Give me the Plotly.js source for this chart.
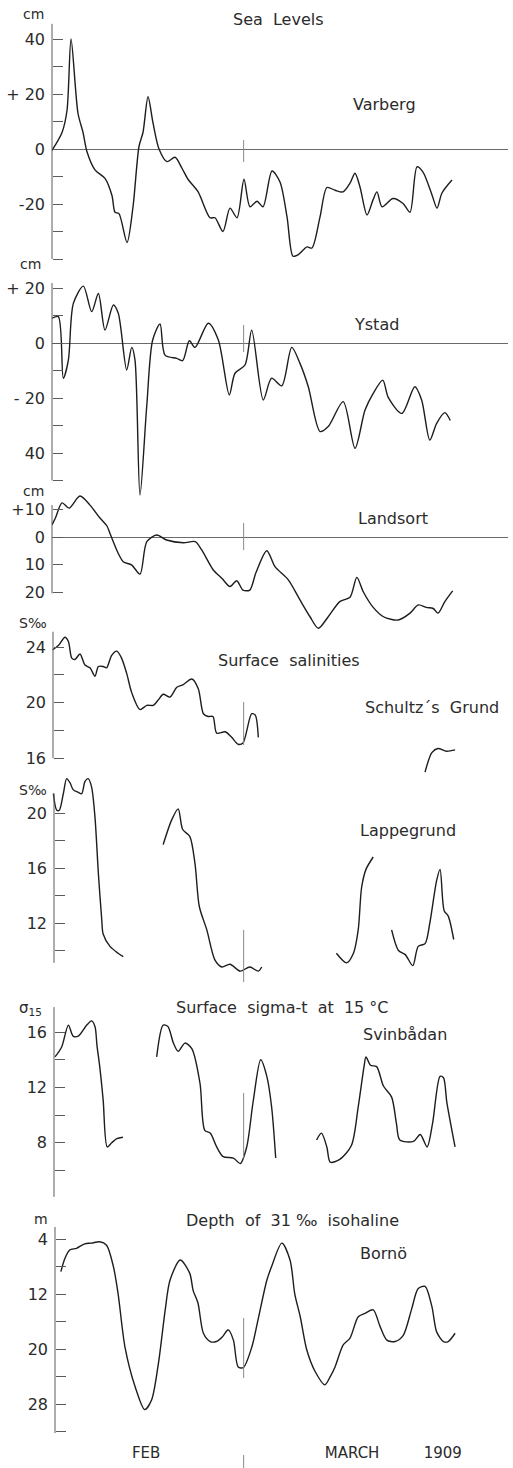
<!DOCTYPE html>
<html><head><meta charset="utf-8">
<script src="https://cdn.plot.ly/plotly-3.0.1.min.js"></script>
<style>html,body{margin:0;padding:0;background:#fff}</style>
</head><body><div id="chart" style="width:513px;height:1468px"></div>
<script>
// ---------- DATA (days after 1 Feb 1909) ----------
const varbergDay = [0,1.47,2.2,2.79,3.81,4.55,5.13,6.3,7.77,8.8,9.24,9.82,11.0,11.88,12.76,13.34,14.08,14.81,15.69,16.86,18.04,19.06,19.94,21.41,23.17,23.9,25.07,26.1,27.13,28.15,29.03,30.06,30.94,32.26,33.43,34.46,35.34,36.07,37.39,38.12,39.3,40.32,41.5,42.67,43.7,44.43,45.16,46.19,47.07,47.65,48.39,50.0,51.47,52.49,53.52,54.4,55.72,56.45,57.18,58.65];
const varbergCm = [-0.5,6,14,40,13,6,-1,-7.6,-10.7,-17,-23,-23.5,-34,-21,1,6,19,9.5,0,-4.6,-3,-7,-11,-15.5,-25,-25,-30,-21.5,-25,-11,-21,-19,-21,-8,-12,-24.7,-39,-38.5,-35.6,-36,-24.7,-14,-15,-15.6,-12.4,-8.8,-13.8,-24,-18.5,-15.6,-21,-18,-19.8,-23,-6.5,-8.4,-16.7,-21.5,-16,-11.3];

const ystadDay = [0,0.93,1.66,2.4,3.13,4.6,5.82,6.8,7.77,9.0,9.72,10.95,11.69,12.17,12.9,13.89,14.76,15.84,16.57,18.28,19.16,20.14,20.97,22.92,24.39,26.0,26.83,28.3,29.28,30.98,32.2,33.68,35.15,36.36,37.58,39.3,40.5,42.7,44.43,45.9,47.1,48.5,49.3,51.3,53.2,54.2,55.4,56.4,57.6,58.4];
const ystadCm = [9,9.6,-12.8,-6.2,14.4,20.7,11.4,18,4.7,13.8,10.8,-9.8,-1.6,-6.2,-55.3,-23,1.1,6.9,-4.4,-5.6,-6.4,0.8,-1.6,7.2,1.1,-18.9,-11,-8,4.7,-20.7,-12.8,-15.6,-1.6,-7.4,-15.9,-32.2,-30.4,-21.3,-38.3,-24.4,-18.3,-13.5,-19.8,-25.6,-15.9,-20.7,-35.3,-29.2,-25.3,-28.2];

const landsortDay = [0,0.5,1.47,2.5,4.1,5.57,7.0,8.06,8.5,9.7,10.45,11.7,12.9,13.9,15.35,16.8,19.25,21,21.95,23.65,24.9,26.1,27.08,28.0,29.0,29.9,31.5,32.7,34.65,36.36,37.83,39.05,40.5,42.2,43.7,44.7,45.64,47.1,48.6,50.78,52.5,53.7,54.9,55.9,56.6,57.6,58.75];
const landsortCm = [4.4,6.9,12.4,10.5,14.9,11.6,7.0,4.0,1.3,-5.9,-9,-10.2,-13.5,-1.7,0.7,-1.1,-2.1,-1.7,-4.7,-12,-15,-18,-15.9,-19.3,-19.3,-13,-5,-10.8,-15.6,-22.9,-29,-33.2,-29,-23.5,-21.9,-14.7,-19.9,-25.6,-29,-30.2,-27.7,-24.7,-25.6,-26,-27.7,-23.5,-19.6];

const schultzDay = [0.1,0.93,1.9,2.4,2.9,3.37,4.1,4.84,5.57,6.3,6.8,7.5,8.0,8.75,9.5,10.2,10.95,11.7,12.9,13.9,14.85,15.6,16.3,17.3,18.3,19.25,20.5,21.45,22.2,22.9,23.6,24.15,25.4,26.35,27.3,28.0,29.28,29.8,30.25,null,54.7,55.7,56.6,57.85,59.1];
const schultzSal = [23.8,24.1,24.7,24.4,23.2,23.1,23.5,22.7,22.5,21.9,22.6,22.6,22.5,23.4,23.7,23.2,22.1,20.7,19.5,19.8,19.8,20.2,20.6,20.4,21.1,21.3,21.7,21.0,19.2,19.0,19.0,17.8,17.9,17.5,17.0,17.1,19.2,19.1,17.5,null,15.0,16.4,16.7,16.5,16.6];

const lappDay = [0.2,0.7,1.07,1.66,2.15,2.64,3.1,3.85,4.35,4.84,5.3,5.8,6.3,6.8,7.3,7.5,8.5,9.7,10.45,null,16.3,17.55,18.5,19.16,20.2,20.97,21.6,22.7,23.9,24.9,26.1,27.6,29.0,30.25,30.75,null,41.7,43.2,44.2,44.9,45.4,46.04,47.1,null,49.8,50.8,51.8,52.9,53.7,54.7,55.4,56.4,56.9,57.5,58.1,58.9];
const lappSal = [21.4,20.2,20.2,21.4,22.5,22.2,21.7,21.5,21.4,22.3,22.5,21.9,19.7,15.6,12.2,11.2,10.3,9.8,9.55,null,17.7,19.5,20.3,18.8,18.3,16.3,13.2,11.5,9.3,8.8,9.0,8.5,8.8,8.5,8.8,null,9.8,9.1,9.8,11.5,14.6,15.9,16.8,null,11.5,10.0,9.7,8.9,10.3,10.5,12.0,15.1,15.9,12.9,12.5,10.8];

const svinDay = [0.44,1.4,2.4,3.1,3.85,5.1,5.8,6.3,6.6,7.0,7.5,8.1,8.75,9.5,10.4,null,15.35,16.3,17.0,17.8,18.5,19.5,20.5,21.7,22.4,23.2,24.15,25.1,26.6,27.6,28.55,29.5,30.6,31.5,32.2,32.8,null,38.8,39.5,40.3,40.8,42.2,43.9,44.9,45.75,46.04,46.7,47.6,48.6,49.8,50.5,51.0,53.0,54.0,55.0,55.8,56.9,57.4,57.9,59.1];
const svinSigma = [14.2,14.9,16.5,15.7,15.7,16.5,16.8,16.4,15.0,13.5,11.1,7.7,8.0,8.3,8.4,null,14.2,16.5,16.4,15.2,14.6,15.2,14.8,12.3,8.9,8.7,7.7,7.0,6.9,6.5,7.7,11.0,14.0,12.8,10.6,6.9,null,8.2,8.7,7.7,6.6,6.8,7.8,10.6,13.5,14.2,13.6,13.5,12.1,11.3,9.4,8.2,8.1,8.6,7.7,9.4,12.8,12.7,10.9,7.7];

const bornoDay = [1.3,1.9,2.6,3.6,4.8,5.8,7.0,8.0,9.0,9.7,10.7,12.2,13.6,14.6,15.6,16.6,17.3,18.8,20.2,20.7,21.4,22.2,23.2,24.1,25.0,25.85,26.6,27.3,28.05,29.3,30.2,31.5,32.2,33.7,34.9,35.6,36.4,37.35,38.6,40.0,40.8,41.5,42.7,43.7,44.9,45.9,47.1,48.1,49.1,50.3,51.5,52.7,53.7,54.7,55.7,56.4,57.4,58.1,59.1];
const bornoDepth = [8.75,6.8,5.6,5.35,4.7,4.6,4.4,4.9,8.0,12.0,19.7,25.5,28.8,27.4,22.1,14.3,10.0,7.05,9.0,11.5,13.3,17.7,18.9,18.9,18.2,17.2,18.7,22.6,22.7,19.7,15.8,10.0,8.0,4.6,7.05,12.0,15.3,20.1,23.3,25.2,24.0,22.6,19.4,18.4,15.3,14.8,14.3,16.7,18.7,18.9,18.0,14.3,11.2,10.9,13.8,17.5,18.9,18.9,17.7];

// labelled ticks and unlabelled (minor) ticks
const varbergTicks = [40,20,0,-20];
const varbergTickText = ['40','+ 20','0','-20'];
const varbergMinor = [30,10,-10,-30,-40];
const ystadTicks = [20,0,-20,-40];
const ystadTickText = ['+ 20','0','- 20','40'];
const ystadMinor = [10,-10,-30,-50];
const landsortTicks = [10,0,-10,-20];
const landsortTickText = ['+10','0','10','20'];
const landsortMinor = [];
const schultzTicks = [24,20,16];
const schultzTickText = ['24','20','16'];
const schultzMinor = [22,18];
const lappTicks = [20,16,12];
const lappTickText = ['20','16','12'];
const lappMinor = [18,14,10];
const svinTicks = [16,12,8];
const svinTickText = ['16','12','8'];
const svinMinor = [14,10,6];
const bornoTicks = [4,12,20,28];
const bornoTickText = ['4','12','20','28'];
const bornoMinor = [8,16,24,32];
const monthLabelDays = [13.8, 44.0, 57.3];
const monthLabels = ['FEB','MARCH','1909'];
const MARCH1 = 28.1;

// ---------- LAYOUT ----------
const W = 513, H = 1468;
const px = x => x / W;
const py = y => 1 - y / H;
const FONT = 'DejaVu Sans, Liberation Sans, sans-serif';
const INK = '#1d1d1d', AX = '#5a5a5a';

const panels = [
  {id:'y',  top:20,   bot:262,  y0:149,  v0:0,  s:2.75,  xpos:52, line:[-40,45.5], rev:false, zero:true,  tv:varbergTicks,  tt:varbergTickText,  mn:varbergMinor,  x:varbergDay,  v:varbergCm,  mark:[140,162]},
  {id:'y2', top:278,  bot:500,  y0:343,  v0:0,  s:2.75,  xpos:52, line:[-50,21.8], rev:false, zero:true,  tv:ystadTicks,    tt:ystadTickText,    mn:ystadMinor,    x:ystadDay,    v:ystadCm,    mark:[325,352]},
  {id:'y3', top:490,  bot:632,  y0:537,  v0:0,  s:2.75,  xpos:52, line:[-20.5,11.6], rev:false, zero:true, tv:landsortTicks, tt:landsortTickText, mn:landsortMinor, x:landsortDay, v:landsortCm, mark:[523,550]},
  {id:'y4', top:632,  bot:776,  y0:647,  v0:24, s:13.9,  xpos:53, line:[16,25.1], rev:false, zero:false, tv:schultzTicks, tt:schultzTickText,  mn:schultzMinor,  x:schultzDay,  v:schultzSal, mark:[702,745]},
  {id:'y5', top:770,  bot:976,  y0:813,  v0:20, s:13.75, xpos:54, line:[9.1,21.45], rev:false, zero:false, tv:lappTicks,    tt:lappTickText,     mn:lappMinor,     x:lappDay,     v:lappSal,    mark:[930,982]},
  {id:'y6', top:1000, bot:1200, y0:1032, v0:16, s:13.85, xpos:54, line:[4.1,17.8], rev:false, zero:false, tv:svinTicks,    tt:svinTickText,     mn:svinMinor,     x:svinDay,     v:svinSigma,  mark:[1093,1158]},
  {id:'y7', top:1222, bot:1436, y0:1239, v0:4,  s:6.88,  xpos:55, line:[2.26,32.2], rev:true, zero:false, tv:bornoTicks,   tt:bornoTickText,    mn:bornoMinor,    x:bornoDay,    v:bornoDepth, mark:[1318,1378]}
];

const data = [];
const layout = {
  width: W, height: H,
  margin: {l:0, r:0, t:0, b:0},
  paper_bgcolor: '#ffffff', plot_bgcolor: 'rgba(0,0,0,0)',
  showlegend: false,
  font: {family: FONT, color: '#2b2b2b', size: 16},
  shapes: [], annotations: []
};
const X0 = 52, X1 = 508, DPX = 6.82;
layout.xaxis = {
  domain: [px(X0), px(X1)], range: [0, (X1 - X0) / DPX], anchor: 'y7',
  showline: false, showgrid: false, zeroline: false, ticks: '',
  tickvals: monthLabelDays, ticktext: monthLabels,
  tickfont: {family: FONT, size: 15, color: '#2b2b2b'}, ticklabelstandoff: 6
};

function pxOf(p, val) { return p.rev ? p.y0 + (val - p.v0) * p.s : p.y0 - (val - p.v0) * p.s; }

panels.forEach((p, i) => {
  const key = i === 0 ? 'yaxis' : 'yaxis' + (i + 1);
  const vTop = p.rev ? p.v0 - (p.y0 - p.top) / p.s : p.v0 + (p.y0 - p.top) / p.s;
  const vBot = p.rev ? p.v0 + (p.bot - p.y0) / p.s : p.v0 - (p.bot - p.y0) / p.s;
  const ax = {
    domain: [py(p.bot), py(p.top)], range: [vBot, vTop],
    anchor: 'free', position: px(p.xpos),
    showline: false, showgrid: false,
    zeroline: p.zero, zerolinecolor: '#6a6a6a', zerolinewidth: 1,
    ticks: 'inside', ticklen: 10, tickwidth: 1, tickcolor: AX,
    tickvals: p.tv, ticktext: p.tt, ticklabelstandoff: 7,
    tickfont: {family: FONT, size: 16, color: '#2b2b2b'}
  };
  if (p.mn.length) {
    ax.minor = {tickvals: p.mn, ticks: 'inside', ticklen: 10, tickwidth: 1, tickcolor: AX, showgrid: false};
  }
  layout[key] = ax;
  data.push({
    type: 'scatter', mode: 'lines', x: p.x, y: p.v,
    xaxis: 'x', yaxis: p.id, connectgaps: false, hoverinfo: 'skip',
    line: {color: INK, width: 1.4, shape: 'spline', smoothing: 0.8}
  });
  layout.shapes.push({type:'line', xref:'paper', yref:'paper',
    x0: px(p.xpos), x1: px(p.xpos), y0: py(pxOf(p, p.line[0])), y1: py(pxOf(p, p.line[1])),
    line: {color: AX, width: 1}});
  layout.shapes.push({type:'line', xref:'x', yref:'paper', x0: MARCH1, x1: MARCH1,
    y0: py(p.mark[1]), y1: py(p.mark[0]), line: {color: '#8a8a8a', width: 1}});
});
layout.shapes.push({type:'line', xref:'x', yref:'paper', x0: MARCH1, x1: MARCH1,
  y0: py(1468), y1: py(1455), line: {color: '#8a8a8a', width: 1}});

const texts = [
  ['cm', 33, 14, 14], ['cm', 30, 264, 14], ['cm', 33, 491, 14],
  ['S‰', 33, 623, 14], ['S‰', 33, 790, 14], ['σ<sub>15</sub>', 30, 1008, 15], ['m', 41, 1219, 14],
  ['Sea  Levels', 278, 19, 16], ['Varberg', 384, 105, 16], ['Ystad', 376, 325, 16], ['Landsort', 393, 518, 16],
  ['Surface  salinities', 289, 660, 16], ['Schultz´s  Grund', 432, 707, 16], ['Lappegrund', 408, 830, 16],
  ['Surface  sigma-t  at  15 °C', 282, 1007, 16], ['Svinbådan', 405, 1034, 16],
  ['Depth  of  31 ‰  isohaline', 292, 1220, 16], ['Bornö', 383, 1253, 16]
];
texts.forEach(t => layout.annotations.push({
  text: t[0], x: px(t[1]), y: py(t[2]), xref: 'paper', yref: 'paper',
  xanchor: 'center', yanchor: 'middle', showarrow: false,
  font: {family: FONT, size: t[3], color: '#2b2b2b'}
}));

Plotly.newPlot('chart', data, layout, {staticPlot: true, displayModeBar: false});
</script>
</body></html>
